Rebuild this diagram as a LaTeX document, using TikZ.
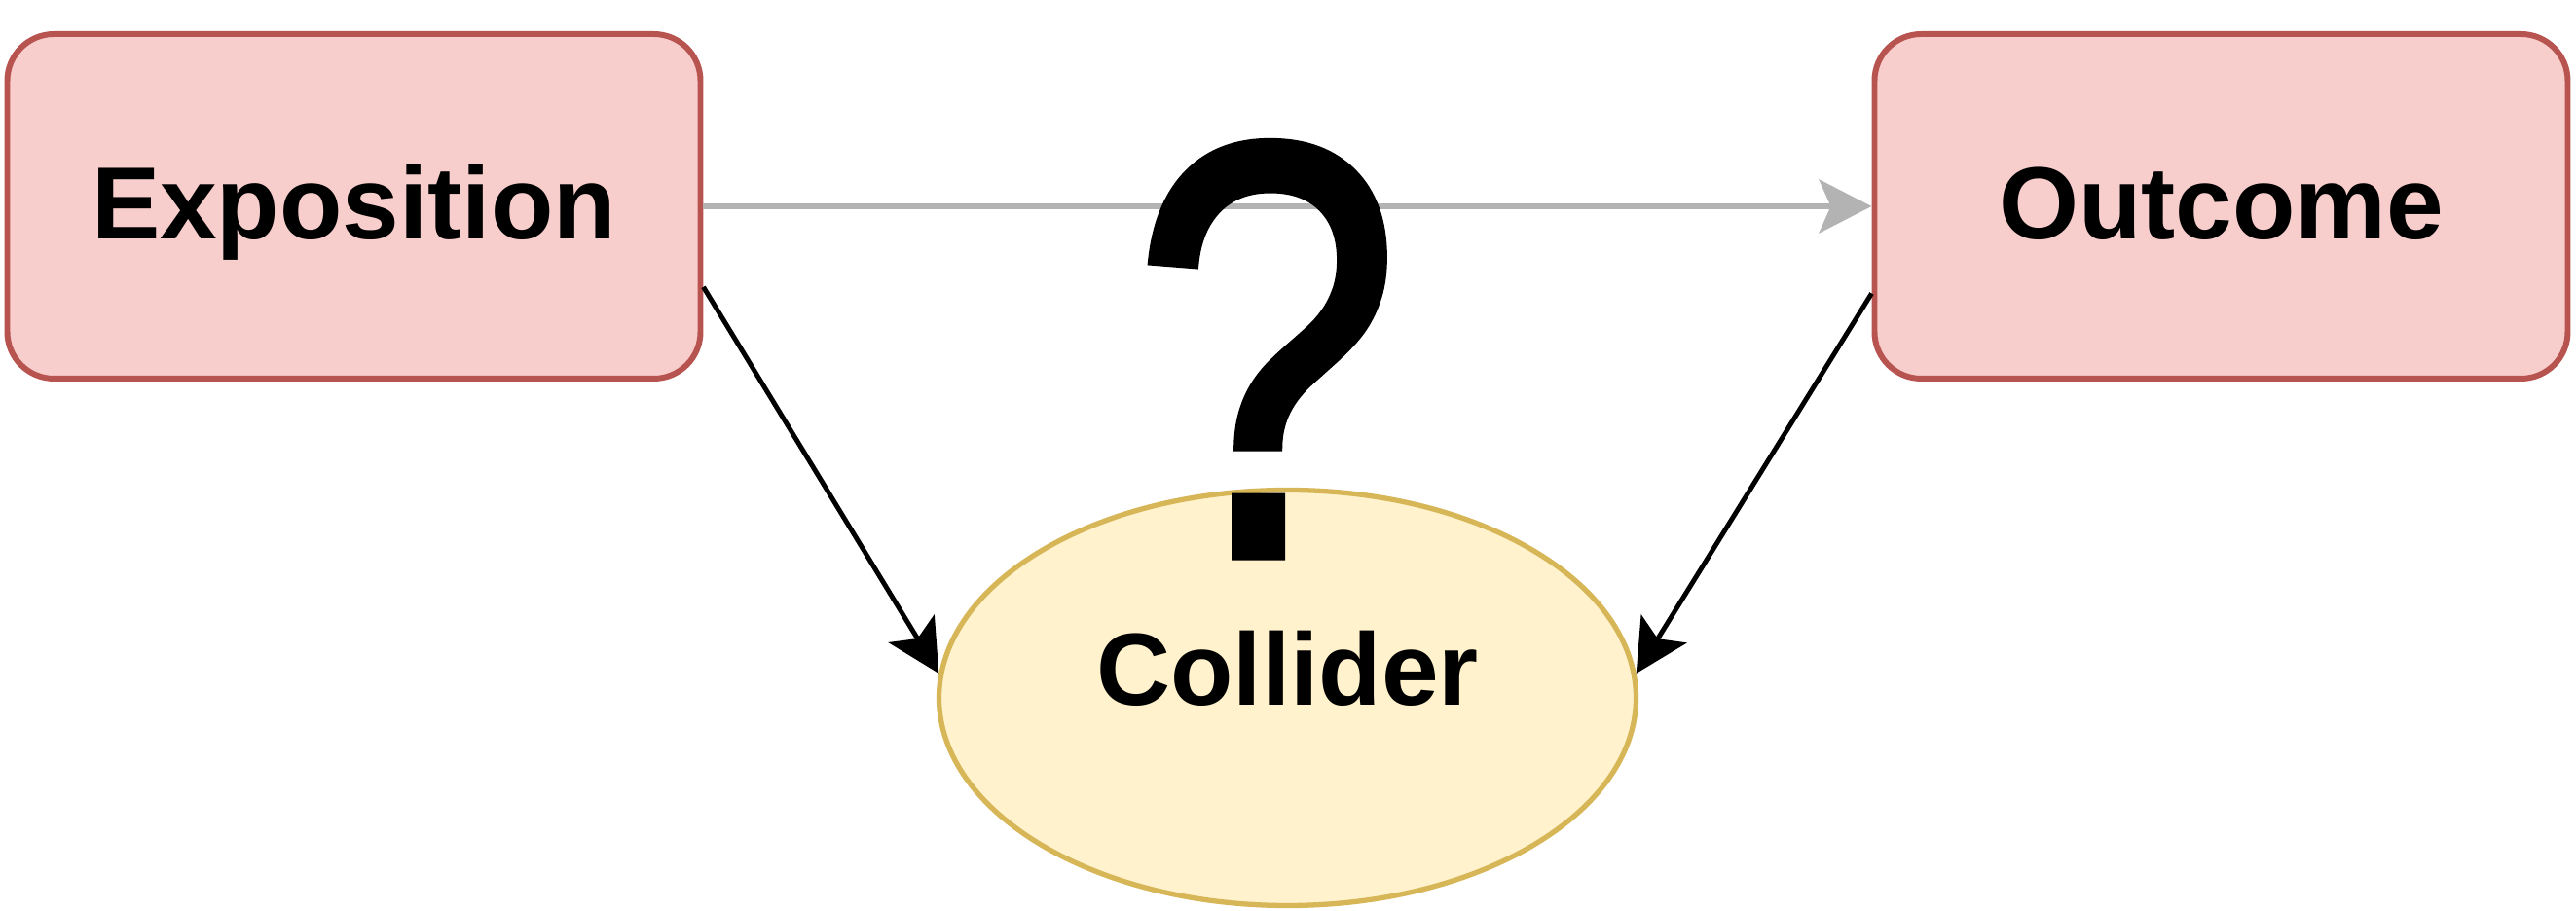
\documentclass[tikz,border=0pt]{standalone}
\usepackage{fontspec}
\setmainfont{Liberation Sans}
\newfontfamily\questionfont[FakeBold=1.5]{Liberation Sans}
\usepackage{tikz}
\usetikzlibrary{arrows.meta}
\usetikzlibrary{positioning}
\usetikzlibrary{shapes}
\definecolor{boxfill}{HTML}{F8CECC}
\definecolor{boxline}{HTML}{B85450}
\definecolor{colliderfill}{HTML}{FFF2CC}
\definecolor{colliderline}{HTML}{D6B656}
\definecolor{linkgray}{HTML}{B3B3B3}
\tikzset{every picture/.style={node distance=12cm, >={Stealth[length=0.54cm, width=0.55cm, inset=0.12cm]}}}
\tikzstyle{varbox}    = [draw=boxline, fill=boxfill, line width=1.7pt, rectangle, rounded corners=0.48cm, minimum width=7.12cm, minimum height=3.54cm, font=\bfseries\fontsize{30}{36}\selectfont, text height=0.85cm, text depth=0.17cm]
\tikzstyle{collider}  = [draw=colliderline, fill=colliderfill, line width=1.5pt, ellipse, inner sep=0pt, minimum width=7.16cm, minimum height=4.27cm, font=\bfseries\fontsize{30}{36}\selectfont, text height=0.85cm, text depth=0.69cm]
\tikzstyle{question}  = [inner sep=0pt, anchor=base, text depth=0pt, font=\questionfont\fontsize{173}{200}\selectfont]
\tikzstyle{pointer}   = [->, line width=1.4pt]
\tikzstyle{link}      = [->, draw=linkgray, line width=1.6pt]

\begin{document}
\begin{tikzpicture}
	\useasboundingbox (0,0) rectangle (26.46,9.36);
	\node[varbox]	(exposition)	at (3.635,7.24)	{Exposition};
	\node[varbox]	(outcome)	[right=of exposition]	{Outcome};
	\node[collider]	(collider)	at (13.225,2.19)	{Collider};

	\draw[link] (exposition) -- (outcome);
	\draw[pointer] (exposition.-13.7) -- (collider.176);
	\draw[pointer] (outcome.194) -- (collider.4);

	\node[question]	(question)	at (13.01,3.65)	{\scalebox{0.82}[1]{?}};
\end{tikzpicture}
\end{document}
